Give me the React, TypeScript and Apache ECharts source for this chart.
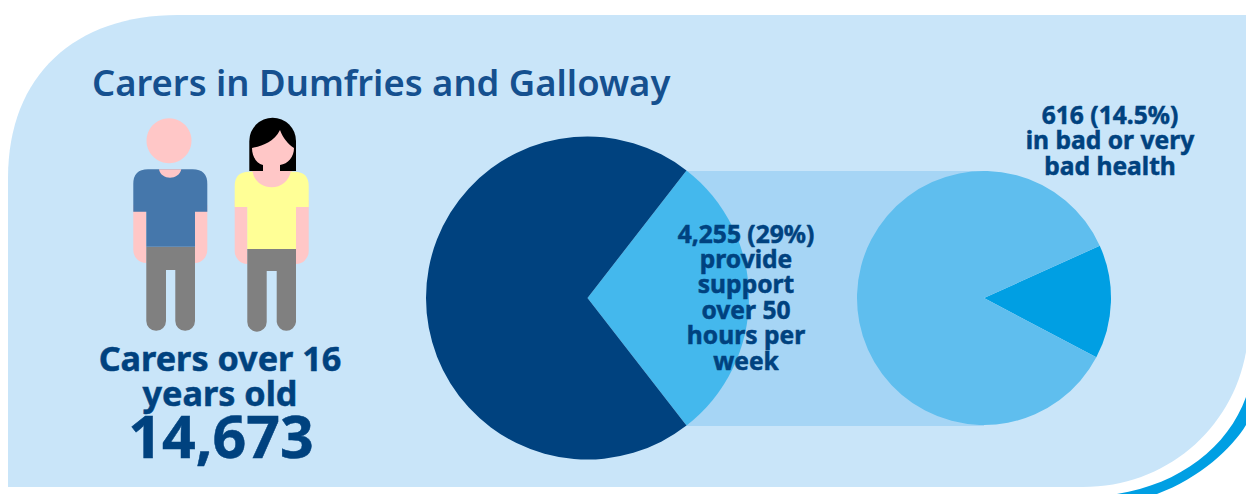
import React, { useEffect, useRef } from "react";
import * as echarts from "echarts";

const TITLE = "Carers in Dumfries and Galloway";
const HEADLINE_LINES = ["Carers over 16", "years old"];
const HEADLINE_TOTAL = "14,673";
const HOURS_LINES = ["4,255 (29%)", "provide", "support", "over 50", "hours per", "week"];
const HEALTH_LINES = ["616 (14.5%)", "in bad or very", "bad health"];

const ALL_CARERS = [
  { name: "Over 50 hours per week", value: 4255 },
  { name: "Other carers", value: 10418 },
];
const HIGH_HOURS_CARERS = [
  { name: "Bad or very bad health", value: 616 },
  { name: "Other health", value: 3639 },
];

const NAVY = "#00427F";
const FONT = '"Noto Sans"';

const SHAPES: Record<string, string> = {
  panel: "M8 487 L8 178 C8 75 75 15 178 15 L1246 15 L1246 352 C1232 430 1165 487 1083 487 Z",
  swoosh: "M1246 397 C1228 447 1180 484 1117 494 L1157 494 C1200 478 1232 448 1246 425 Z",
  armsMan: "M133.3 205 L146.3 205 L146.3 263 A13 13 0 0 1 133.3 250 Z M195 205 L207.3 205 L207.3 250 A13 13 0 0 1 195 263 Z",
  shirtMan: "M133.3 211.7 L133.3 184 Q133.3 169.3 148 169.3 L192.6 169.3 Q207.3 169.3 207.3 184 L207.3 211.7 L195 211.7 L195 246.7 L146.3 246.7 L146.3 211.7 Z",
  neckMan: "M159 169.3 L181.3 169.3 C180 175 175 177.7 170 177.7 C165 177.7 160 175 159 169.3 Z",
  trousersMan: "M146.3 246.7 L195 246.7 L195 321 A9.7 9.7 0 0 1 175.3 321 L175.3 270 L166 270 L166 321 A9.7 9.7 0 0 1 146.3 321 Z",
  hair: "M249.3 171 L249.3 141 A23.3 23.3 0 0 1 296 141 L296 171 Z",
  face: "M252 148 C262 146 274 142 280 130 C283 138 288 144 294 148 C294 157 288 164 280 165 L280 172 L263 172 L263 165 C256 163 252 156 252 148 Z",
  chestWoman: "M252 171 L292 171 L292 190 L252 190 Z",
  armsWoman: "M234.7 200 L247.3 200 L247.3 264 A12.6 13 0 0 1 234.7 251 Z M296 200 L308.7 200 L308.7 251 A12.6 13 0 0 1 296 264 Z",
  shirtWoman: "M234.7 207 L234.7 186 Q234.7 171.7 249 171.7 L252.7 171.7 C254 181 262 187.3 271.7 187.3 C281 187.3 289 181 290.7 171.7 L294.4 171.7 Q308.7 171.7 308.7 186 L308.7 207 L296 207 L296 249 L247.3 249 L247.3 207 Z",
  trousersWoman: "M247.3 249 L296 249 L296 322 A9.7 9.7 0 0 1 276.7 322 L276.7 271 L266.7 271 L266.7 322 A9.7 9.7 0 0 1 247.3 322 Z",
};

Object.entries(SHAPES).forEach(([name, d]) => {
  echarts.graphic.registerShape(name, echarts.graphic.extendPath(d, {}));
});

const shape = (type: string, fill: string) => ({ type, style: { fill }, silent: true });

const textLine = (text: string, x: number, y: number, fontSize: number) => ({
  type: "text",
  x,
  y,
  z: 10,
  silent: true,
  style: {
    text,
    fill: NAVY,
    stroke: NAVY,
    lineWidth: 0.5,
    fontSize,
    fontWeight: 700,
    fontFamily: FONT,
    textAlign: "center",
    textVerticalAlign: "middle",
  },
});

const stack = (lines: string[], x: number, firstY: number, step: number, fontSize: number) =>
  lines.map((line, i) => textLine(line, x, firstY + i * step, fontSize));

const pieSeries = (data: { name: string; value: number }[], center: number[], radius: number, startAngle: number, colors: string[]) => ({
  type: "pie",
  center,
  radius,
  startAngle,
  clockwise: true,
  silent: true,
  z: 5,
  label: { show: false },
  labelLine: { show: false },
  data: data.map((d, i) => ({ ...d, itemStyle: { color: colors[i] } })),
});

export default function App() {
  const ref = useRef<HTMLDivElement>(null);

  useEffect(() => {
    document.body.style.margin = "0";
    const chart = echarts.init(ref.current!, null, { renderer: "svg" });
    chart.setOption({
      animation: false,
      backgroundColor: "#FFFFFF",
      series: [
        pieSeries(ALL_CARERS, [587.5, 298], 161.5, 52.2, ["#44B8ED", NAVY]),
        pieSeries(HIGH_HOURS_CARERS, [984, 298], 127, 24.3, ["#009FE3", "#5FBEEE"]),
      ],
      graphic: [
        shape("panel", "#C9E5F9"),
        shape("swoosh", "#009FE3"),
        { type: "rect", shape: { x: 685, y: 171, width: 299, height: 255 }, style: { fill: "#A6D5F5" }, silent: true },
        shape("armsMan", "#FFC7C7"),
        { type: "circle", shape: { cx: 169, cy: 140.7, r: 22.5 }, style: { fill: "#FFC7C7" }, silent: true },
        shape("trousersMan", "#808080"),
        shape("shirtMan", "#4577AB"),
        shape("neckMan", "#FFC7C7"),
        shape("hair", "#000000"),
        shape("armsWoman", "#FFC7C7"),
        shape("chestWoman", "#FFC7C7"),
        shape("face", "#FFC7C7"),
        shape("trousersWoman", "#808080"),
        shape("shirtWoman", "#FFFF96"),
        {
          type: "text",
          x: 92,
          y: 82,
          z: 10,
          silent: true,
          style: { text: TITLE, fill: "#15508F", fontSize: 36.4, fontWeight: 600, fontFamily: FONT, textAlign: "left", textVerticalAlign: "middle" },
        },
        ...stack(HEADLINE_LINES, 220, 357, 35, 34.2),
        textLine(HEADLINE_TOTAL, 221, 435, 59),
        ...stack(HOURS_LINES, 746, 233, 25.4, 24.6),
        ...stack(HEALTH_LINES, 1110, 114, 25.5, 24.6),
      ],
    });
    return () => chart.dispose();
  }, []);

  return <div ref={ref} style={{ width: 1246, height: 494 }} />;
}
